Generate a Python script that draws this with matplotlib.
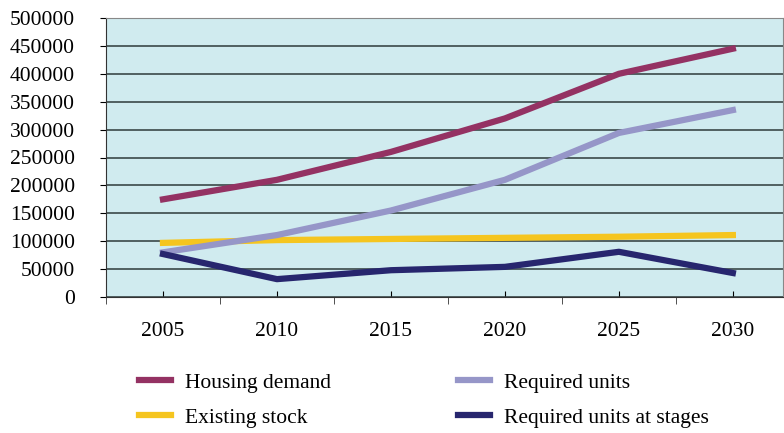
import matplotlib.pyplot as plt
from matplotlib.ticker import MultipleLocator, FixedLocator

plt.rcParams['font.family'] = ['Liberation Serif', 'DejaVu Serif']

years = [2005, 2010, 2015, 2020, 2025, 2030]
housing_demand = [175000, 210000, 260000, 320000, 400000, 445000]
required_units = [80000, 111000, 155000, 210000, 294000, 335000]
existing_stock = [97000, 102000, 104000, 106000, 108000, 111000]
required_stages = [77000, 32000, 48000, 54000, 81000, 43000]

fig = plt.figure(figsize=(7.84, 4.33), dpi=100)
ax = fig.add_axes([106 / 784, 1 - 297 / 433, (783 - 106) / 784, (297 - 18) / 433])
ax.set_facecolor('#d0ebef')

lw = 4.5
ax.plot(years, housing_demand, color='#943263', lw=lw, label='Housing demand')
ax.plot(years, existing_stock, color='#f5c51f', lw=lw, label='Existing stock')
ax.plot(years, required_units, color='#9696c8', lw=lw, label='Required units')
ax.plot(years, required_stages, color='#27266e', lw=lw, label='Required units at stages')

ax.set_xlim(2002.5, 2032.2)
ax.set_ylim(0, 500000)
ax.yaxis.set_major_locator(MultipleLocator(50000))
ax.grid(axis='y', color='#2e3a3a', lw=1.1)
ax.set_axisbelow(True)

ax.xaxis.set_major_locator(FixedLocator(years))
ax.xaxis.set_minor_locator(FixedLocator([2002.5 + 5 * i for i in range(7)]))
ax.tick_params(axis='x', which='major', direction='in', length=4, pad=18, labelsize=15.5)
ax.tick_params(axis='x', which='minor', direction='out', length=5, color='#333333')
ax.tick_params(axis='y', direction='out', length=4.5, pad=18, labelsize=15.5)

for s in ['top', 'right']:
    ax.spines[s].set_color('#888888')
ax.spines['left'].set_color('#333333')
ax.spines['bottom'].set_color('#333333')

fig.legend(*ax.get_legend_handles_labels(), loc='center left',
           bbox_to_anchor=(0.152, 0.076), bbox_transform=fig.transFigure,
           ncol=2, frameon=False, fontsize=15.5, handlelength=1.5,
           handletextpad=0.65, columnspacing=5.9, labelspacing=0.7)

fig.savefig('out.png', dpi=100)
